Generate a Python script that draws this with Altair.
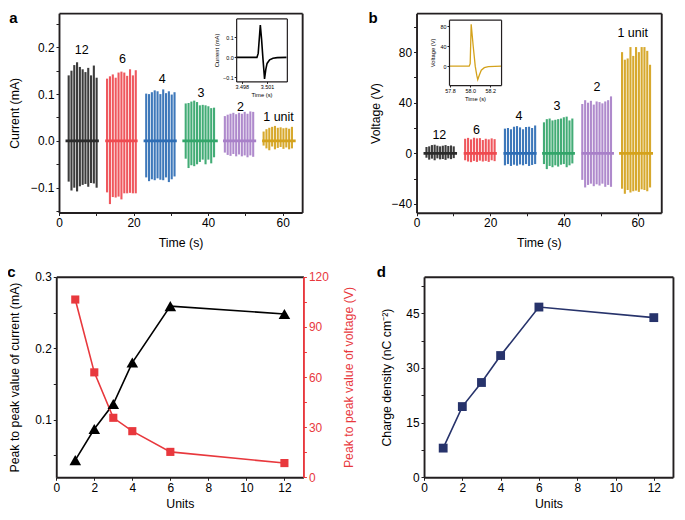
import altair as alt
import pandas as pd

# ---------------- data ----------------
group_labels = ["12", "6", "4", "3", "2", "1 unit"]
group_colors = ["#2b2b2b", "#ee4a50", "#2e6db4", "#33a56a", "#a880c8", "#d4a21c"]

# panel a : current spikes (mA)
a_t = [
    [2.6, 3.35, 4.1, 4.85, 5.6, 6.35, 7.1, 7.85, 8.6, 9.35, 10.1],
    [12.9, 13.67, 14.44, 15.21, 15.98, 16.75, 17.52, 18.29, 19.06, 19.83, 20.6],
    [23.4, 24.16, 24.92, 25.68, 26.44, 27.2, 27.96, 28.72, 29.48, 30.24, 31.0],
    [34.0, 34.76, 35.52, 36.28, 37.04, 37.8, 38.56, 39.32, 40.08, 40.84, 41.6],
    [44.5, 45.26, 46.02, 46.78, 47.54, 48.3, 49.06, 49.82, 50.58, 51.34, 52.1],
    [54.9, 55.66, 56.42, 57.18, 57.94, 58.7, 59.46, 60.22, 60.98, 61.74, 62.5],
]
a_hi = [
    [0.140, 0.150, 0.162, 0.168, 0.158, 0.153, 0.147, 0.156, 0.140, 0.161, 0.135],
    [0.133, 0.138, 0.142, 0.135, 0.146, 0.148, 0.146, 0.139, 0.153, 0.140, 0.151],
    [0.101, 0.100, 0.104, 0.108, 0.106, 0.100, 0.110, 0.102, 0.106, 0.099, 0.104],
    [0.080, 0.081, 0.084, 0.086, 0.083, 0.076, 0.077, 0.076, 0.074, 0.070, 0.071],
    [0.053, 0.056, 0.058, 0.060, 0.057, 0.060, 0.058, 0.062, 0.058, 0.063, 0.062],
    [0.020, 0.025, 0.028, 0.030, 0.032, 0.028, 0.029, 0.027, 0.028, 0.026, 0.030],
]
a_lo = [
    [-0.087, -0.106, -0.100, -0.108, -0.097, -0.094, -0.092, -0.098, -0.090, -0.091, -0.100],
    [-0.110, -0.135, -0.120, -0.121, -0.119, -0.125, -0.112, -0.112, -0.111, -0.112, -0.112],
    [-0.078, -0.086, -0.082, -0.084, -0.080, -0.083, -0.084, -0.078, -0.088, -0.082, -0.076],
    [-0.038, -0.058, -0.052, -0.054, -0.050, -0.045, -0.040, -0.050, -0.040, -0.048, -0.035],
    [-0.025, -0.030, -0.032, -0.028, -0.033, -0.029, -0.033, -0.031, -0.035, -0.031, -0.034],
    [-0.010, -0.016, -0.020, -0.012, -0.018, -0.015, -0.013, -0.017, -0.014, -0.018, -0.016],
]
a_base_start = [1.75, 12.4, 22.7, 33.1, 44.0, 54.5]
a_base_end = [10.7, 21.1, 31.6, 42.6, 52.9, 63.5]
a_lab_t = [6.1, 17.0, 27.7, 38.1, 48.7, 58.9]
a_lab_v = [0.194, 0.175, 0.132, 0.102, 0.073, 0.050]

# panel b : voltage spikes (V)
b_t = [
    [2.7, 3.44, 4.18, 4.92, 5.66, 6.4, 7.14, 7.88, 8.62, 9.36, 10.1],
    [13.2, 14.0, 14.8, 15.6, 16.4, 17.2, 18.0, 18.8, 19.6, 20.4, 21.2],
    [24.0, 24.82, 25.64, 26.46, 27.28, 28.1, 28.92, 29.74, 30.56, 31.38, 32.2],
    [34.6, 35.37, 36.14, 36.91, 37.68, 38.45, 39.22, 39.99, 40.76, 41.53, 42.3],
    [45.0, 45.78, 46.56, 47.34, 48.12, 48.9, 49.68, 50.46, 51.24, 52.02, 52.8],
    [55.8, 56.56, 57.32, 58.08, 58.84, 59.6, 60.36, 61.12, 61.88, 62.64, 63.4],
]
b_hi = [
    [5.0, 5.5, 6.5, 6.8, 6.0, 5.5, 6.0, 6.5, 5.8, 6.2, 5.5],
    [11.5, 12.2, 11.0, 12.3, 11.8, 12.0, 10.5, 11.5, 11.0, 11.8, 11.2],
    [19.5, 20.0, 19.0, 21.0, 21.5, 20.5, 19.0, 20.8, 21.0, 20.0, 22.0],
    [24.5, 27.0, 27.5, 26.0, 26.5, 27.0, 27.5, 28.5, 29.0, 26.0, 27.5],
    [39.0, 42.0, 40.0, 41.5, 38.5, 41.0, 40.5, 39.5, 41.0, 42.0, 45.0],
    [80.0, 74.0, 75.0, 84.0, 77.0, 84.0, 80.0, 84.0, 84.0, 81.0, 70.0],
]
b_lo = [
    [-3.5, -5.0, -4.2, -5.5, -4.0, -4.8, -4.5, -5.2, -4.0, -4.6, -3.8],
    [-5.5, -6.5, -7.0, -6.0, -6.8, -5.8, -6.5, -6.0, -6.8, -5.5, -6.2],
    [-9.5, -8.5, -10.0, -9.0, -9.8, -8.8, -9.5, -8.5, -10.0, -9.2, -8.5],
    [-8.5, -12.5, -10.0, -11.0, -9.5, -10.5, -9.0, -8.5, -11.0, -9.5, -8.0],
    [-21.0, -27.0, -25.0, -24.0, -26.0, -24.5, -25.5, -24.0, -26.5, -25.0, -26.5],
    [-28.0, -32.0, -29.0, -31.0, -30.0, -29.5, -30.5, -28.5, -29.0, -30.0, -27.0],
]
b_base_start = [1.9, 12.8, 23.6, 34.1, 44.8, 55.0]
b_base_end = [11.0, 21.8, 32.6, 43.0, 53.6, 64.2]
b_lab_t = [6.2, 16.3, 27.8, 38.1, 49.0, 58.7]
b_lab_v = [14.4, 18.7, 29.8, 37.5, 52.5, 94.8]

# insets
ia_t = [3.4973, 3.4998, 3.49995, 3.5002, 3.50035, 3.5005, 3.50065, 3.5007, 3.50085, 3.5010, 3.5013, 3.5017, 3.5022, 3.5033]
ia_v = [0.0, 0.0, 0.02, 0.162, 0.09, 0.0, -0.08, -0.108, -0.06, -0.03, -0.012, -0.004, -0.001, 0.0]
ib_t = [57.79, 57.99, 58.0, 58.01, 58.03, 58.05, 58.065, 58.075, 58.09, 58.11, 58.14, 58.18, 58.31]
ib_v = [0.0, 0.0, 5.0, 84.0, 40.0, 0.0, -18.0, -27.0, -18.0, -8.0, -3.0, -1.0, 0.0]

# panels c, d
units = [1, 2, 3, 4, 6, 12]
current_pp = [0.0435, 0.087, 0.122, 0.180, 0.259, 0.248]
voltage_pp = [106.4, 62.8, 35.6, 27.6, 15.2, 8.5]
charge_density = [8.0, 19.4, 26.0, 33.4, 46.7, 43.8]

# ---------------- layout helpers ----------------
W, H = 669, 504
S = 0.975
OX, OY = 1.0, 2.0
FONT = "Liberation Sans"
DARK = "#231f20"
RED = "#e8383d"
NAVY = "#27336b"


def X(px):
    return (px - OX) * S


def Y(py):
    return (py - OY) * S


boxes = {
    "a": dict(L=53.3, R=302.7, T=7.3, B=211.7, xd=[0, 65.24], yd=[-0.1529, 0.2729]),
    "b": dict(L=420, R=671, T=7.3, B=212, xd=[0, 66.44], yd=[-47.0, 110.8]),
    "ia": dict(L=235, R=287, T=12.7, B=77.3, xd=[3.49734, 3.50334], yd=[-0.12, 0.195]),
    "ib": dict(L=453.3, R=506.7, T=14, B=81, xd=[57.79, 58.306], yd=[-37.7, 93.0]),
    "c": dict(L=50.5, R=304, T=277.7, B=483.3, xd=[0, 13.0], yd=[0.0195, 0.3]),
    "cr": dict(L=50.5, R=304, T=277.7, B=483.3, xd=[0, 13.0], yd=[0, 120]),
    "d": dict(L=427.7, R=683, T=277.7, B=483.3, xd=[0, 13.0], yd=[0, 55]),
}


def xsc(p):
    b = boxes[p]
    return alt.Scale(domain=b["xd"], range=[X(b["L"]), X(b["R"])], nice=False, zero=False)


def ysc(p):
    b = boxes[p]
    return alt.Scale(domain=b["yd"], range=[Y(b["B"]), Y(b["T"])], nice=False, zero=False)


def mk_axis(p, orient, fs=11.9, values=None, fmt=None, label_expr=None, title=None,
            title_pos=None, color=DARK, labels=True, ticks=True, dw=1.9, ts=3.0,
            letter=None, letter_pos=None, lpad=2):
    b = boxes[p]
    kw = dict(orient=orient, grid=False, domainColor=color, domainWidth=dw,
              tickColor=color, tickSize=ts, tickWidth=1, labels=labels, ticks=ticks,
              labelFont=FONT, labelFontSize=fs, labelPadding=lpad,
              labelColor=("black" if color == DARK else color),
              labelFlush=False, labelOverlap=False, labelBound=False,
              titleFont=FONT, titleFontSize=fs + 0.4, titleFontWeight="normal",
              titleColor=("black" if color == DARK else color), zindex=1)
    if orient == "bottom":
        kw["offset"] = Y(b["B"]) - H
    elif orient == "top":
        kw["offset"] = -Y(b["T"])
    elif orient == "left":
        kw["offset"] = -X(b["L"])
    else:
        kw["offset"] = X(b["R"]) - W
    if values is not None:
        kw["values"] = values
    if fmt is not None:
        kw["format"] = fmt
    if label_expr is not None:
        kw["labelExpr"] = label_expr
    if title is not None:
        kw["title"] = title
        kw["titleBaseline"] = "middle"
        if orient in ("left", "right"):
            edge = b["L"] if orient == "left" else b["R"]
            kw["titleX"] = X(title_pos) - X(edge)
            kw["titleAngle"] = 270
        else:
            kw["titleY"] = Y(title_pos) - Y(b["B"])
    elif letter is not None:
        kw["title"] = letter
        kw["titleFontSize"] = 15
        kw["titleFontWeight"] = "bold"
        kw["titleAngle"] = 0
        kw["titleAlign"] = "center"
        kw["titleBaseline"] = "middle"
        kw["titleX"] = X(letter_pos[0])
        kw["titleY"] = Y(letter_pos[1]) - Y(b["T"])
    else:
        kw["title"] = ""
    return alt.Axis(**kw)


def frame(p, letter=None, letter_pos=None, right=True, dw=1.9):
    b = boxes[p]
    df = pd.DataFrame({"x": [b["xd"][0]], "y": [b["yd"][0]]})
    return alt.Chart(df).mark_point(opacity=0).encode(
        x=alt.X("x:Q", scale=xsc(p),
                axis=mk_axis(p, "top", labels=False, ticks=False, dw=dw,
                             letter=letter, letter_pos=letter_pos)),
        y=alt.Y("y:Q", scale=ysc(p),
                axis=(mk_axis(p, "right", labels=False, ticks=False, dw=dw) if right else None)),
    )


def spike_panel(p, ts, his, los, starts, ends, lab_t, lab_v, xaxis, yaxis, letter, letter_pos):
    rows = []
    for g in range(len(ts)):
        for t, h, l in zip(ts[g], his[g], los[g]):
            rows.append(dict(t=t, hi=h, lo=l, c=group_colors[g]))
    sp = pd.DataFrame(rows)
    base = pd.DataFrame({"s": starts, "e": ends, "z": [0.0] * len(starts), "c": group_colors})
    lab = pd.DataFrame({"t": lab_t, "v": lab_v, "txt": group_labels})
    spikes = alt.Chart(sp).mark_rule(strokeWidth=2.1, opacity=0.92).encode(
        x=alt.X("t:Q", scale=xsc(p), axis=xaxis),
        y=alt.Y("lo:Q", scale=ysc(p), axis=yaxis),
        y2="hi:Q",
        color=alt.Color("c:N", scale=None),
    )
    baseline = alt.Chart(base).mark_rule(strokeWidth=2.8).encode(
        x=alt.X("s:Q", scale=xsc(p), axis=None),
        x2="e:Q",
        y=alt.Y("z:Q", scale=ysc(p), axis=None),
        color=alt.Color("c:N", scale=None),
    )
    labels = alt.Chart(lab).mark_text(font=FONT, fontSize=12.5, color="black",
                                      baseline="middle", align="center").encode(
        x=alt.X("t:Q", scale=xsc(p), axis=None),
        y=alt.Y("v:Q", scale=ysc(p), axis=None),
        text="txt:N",
    )
    return [spikes, baseline, labels, frame(p, letter, letter_pos)]


def inset(p, ts, vs, color, xvals, xfmt, yvals, yfmt, ytitle, ytitle_pos, xtitle_pos, sw):
    df = pd.DataFrame({"t": ts, "v": vs})
    fs = 5.4
    line = alt.Chart(df).mark_line(color=color, strokeWidth=sw).encode(
        x=alt.X("t:Q", scale=xsc(p),
                axis=mk_axis(p, "bottom", fs=fs, values=xvals, fmt=xfmt, title="Time (s)",
                             title_pos=xtitle_pos, dw=1.2, ts=2, lpad=1)),
        y=alt.Y("v:Q", scale=ysc(p),
                axis=mk_axis(p, "left", fs=fs, values=yvals, fmt=yfmt, title=ytitle,
                             title_pos=ytitle_pos, dw=1.2, ts=2, lpad=1)),
    )
    return [line, frame(p, dw=1.2)]


layers = []

# panel a
layers += spike_panel(
    "a", a_t, a_hi, a_lo, a_base_start, a_base_end, a_lab_t, a_lab_v,
    mk_axis("a", "bottom", values=[0, 10, 20, 30, 40, 50, 60], fmt="d",
            label_expr="datum.value % 20 == 0 ? datum.label : ''",
            title="Time (s)", title_pos=242.5),
    mk_axis("a", "left", values=[-0.15, -0.1, -0.05, 0, 0.05, 0.1, 0.15, 0.2, 0.25], fmt=".1f",
            label_expr="abs(round(datum.value * 100)) % 10 == 0 ? datum.label : ''",
            title="Current (mA)", title_pos=7.5),
    "a", (6, 12),
)
layers += inset("ia", ia_t, ia_v, "black", [3.498, 3.501], ".3f", [-0.1, 0, 0.1], ".1f",
                "Current (mA)", 215, 91, 1.6)

# panel b
layers += spike_panel(
    "b", b_t, b_hi, b_lo, b_base_start, b_base_end, b_lab_t, b_lab_v,
    mk_axis("b", "bottom", values=[0, 10, 20, 30, 40, 50, 60], fmt="d",
            label_expr="datum.value % 20 == 0 ? datum.label : ''",
            title="Time (s)", title_pos=242.5),
    mk_axis("b", "left", values=[-40, -20, 0, 20, 40, 60, 80, 100], fmt="d",
            label_expr="datum.value % 40 == 0 ? datum.label : ''",
            title="Voltage (V)", title_pos=377.5),
    "b", (375, 12),
)
layers += inset("ib", ib_t, ib_v, "#d4a21c", [57.8, 58.0, 58.2], ".1f", [0, 40, 80], "d",
                "Voltage (V)", 436.3, 95, 1.3)

# panel c
cdf = pd.DataFrame({"u": units, "cur": current_pp, "volt": voltage_pp})
c_x_axis = mk_axis("c", "bottom", values=[0, 2, 4, 6, 8, 10, 12], fmt="d", title="Units", title_pos=510)
c_y_axis = mk_axis("c", "left", values=[0.05, 0.1, 0.15, 0.2, 0.25, 0.3], fmt=".1f",
                   label_expr="abs(round(datum.value * 100)) % 10 == 0 ? datum.label : ''",
                   title="Peak to peak value of current (mA)", title_pos=8)
c_r_axis = mk_axis("cr", "right", values=[0, 15, 30, 45, 60, 75, 90, 105, 120], fmt="d",
                   label_expr="datum.value % 30 == 0 ? datum.label : ''",
                   title="Peak to peak value of voltage (V)", title_pos=350, color=RED)
layers.append(alt.Chart(cdf).mark_line(color="black", strokeWidth=1.6).encode(
    x=alt.X("u:Q", scale=xsc("c"), axis=c_x_axis),
    y=alt.Y("cur:Q", scale=ysc("c"), axis=c_y_axis)))
layers.append(alt.Chart(cdf).mark_line(color=RED, strokeWidth=1.6).encode(
    x=alt.X("u:Q", scale=xsc("cr"), axis=None),
    y=alt.Y("volt:Q", scale=ysc("cr"), axis=c_r_axis)))
layers.append(alt.Chart(cdf).mark_point(shape="triangle-up", filled=True, size=135,
                                        color="black", opacity=1).encode(
    x=alt.X("u:Q", scale=xsc("c"), axis=None),
    y=alt.Y("cur:Q", scale=ysc("c"), axis=None)))
layers.append(alt.Chart(cdf).mark_point(shape="square", filled=True, size=66,
                                        color=RED, opacity=1).encode(
    x=alt.X("u:Q", scale=xsc("cr"), axis=None),
    y=alt.Y("volt:Q", scale=ysc("cr"), axis=None)))
layers.append(frame("c", "c", (4, 272), right=False))

# panel d
ddf = pd.DataFrame({"u": units, "q": charge_density})
d_x_axis = mk_axis("d", "bottom", values=[0, 2, 4, 6, 8, 10, 12], fmt="d", title="Units", title_pos=510)
d_y_axis = mk_axis("d", "left", values=[0, 7.5, 15, 22.5, 30, 37.5, 45, 52.5], fmt=".0f",
                   label_expr="datum.value % 15 == 0 ? datum.label : ''",
                   title="Charge density (nC cm\u207b\u00b2)", title_pos=389.5)
layers.append(alt.Chart(ddf).mark_line(color=NAVY, strokeWidth=1.6).encode(
    x=alt.X("u:Q", scale=xsc("d"), axis=d_x_axis),
    y=alt.Y("q:Q", scale=ysc("d"), axis=d_y_axis)))
layers.append(alt.Chart(ddf).mark_point(shape="square", filled=True, size=78,
                                        color=NAVY, opacity=1).encode(
    x=alt.X("u:Q", scale=xsc("d"), axis=None),
    y=alt.Y("q:Q", scale=ysc("d"), axis=None)))
layers.append(frame("d", "d", (383.5, 272)))

chart = alt.layer(*layers).resolve_scale(
    x="independent", y="independent"
).resolve_axis(
    x="independent", y="independent"
).properties(
    width=W, height=H, padding=0,
    autosize=alt.AutoSizeParams(type="none"),
).configure_view(strokeWidth=0)

chart.save("out.html", embed_options={"renderer": "svg", "actions": False})
